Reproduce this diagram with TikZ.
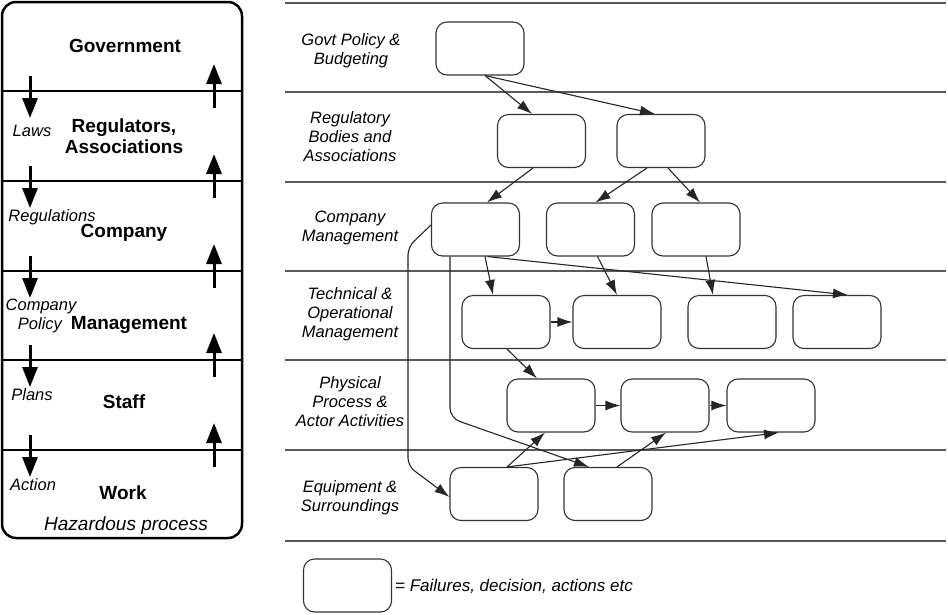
\documentclass[tikz,border=0pt]{standalone}
\usepackage{fontspec}
\setmainfont{Liberation Sans}
\usetikzlibrary{arrows.meta}
\begin{document}
\begin{tikzpicture}[x=1pt,y=-1pt,
  box/.style={draw=black!80, line width=1.1pt, rounded corners=11pt, minimum width=88pt, minimum height=53pt, inner sep=0pt},
  conn/.style={draw=black!85, line width=1.1pt, -{Latex[length=15pt,width=10pt]}},
  bigarrow/.style={line width=3pt, -{Triangle[length=20pt,width=15pt]}},
  lane/.style={draw=black!65, line width=1.4pt},
  sepline/.style={line width=2.5pt},
  head/.style={font=\fontsize{19}{21}\selectfont\bfseries, align=center, inner sep=0pt},
  lab/.style={font=\fontsize{16.5}{19}\selectfont\itshape, align=center, inner sep=0pt}]
\useasboundingbox (0,0) rectangle (948,614);

% ---------- left panel ----------
\draw[line width=2.5pt, rounded corners=14pt] (2,2) rectangle (242,538);
\foreach \yy in {91,181,271,360,450}{
  \draw[sepline] (2,\yy) -- (242,\yy);
  \draw[bigarrow] (30,\yy-15) -- (30,\yy+27);
  \draw[bigarrow] (214,\yy+17) -- (214,\yy-27);
}
\node[head] (gov) at (125,46) {Government};
\node[head] (reg) at (124,136) {Regulators,\\Associations};
\node[head] (comp) at (124,233) {Company};
\node[head] (mgmt) at (129,325) {Management};
\node[head] (staff) at (124,402) {Staff};
\node[head] (work) at (123,493) {Work};
\node[lab] (laws) at (32,131) {Laws};
\node[lab] (regs) at (52,217) {Regulations};
\node[lab] (cpol1) at (41,306) {Company};
\node[lab] (cpol2) at (40,325) {Policy};
\node[lab] (plans) at (32,395) {Plans};
\node[lab] (action) at (33,485) {Action};
\node[font=\fontsize{19}{21}\selectfont\itshape, inner sep=0pt] (haz) at (126,526) {Hazardous process};

% ---------- right panel lanes ----------
\foreach \yy in {3,92,182,271,360,450,541}{
  \draw[lane] (285,\yy) -- (946,\yy);
}
\node[lab] (r1) at (351,51) {Govt Policy \&\\Budgeting};
\node[lab] (r2) at (350,137) {Regulatory\\Bodies and\\Associations};
\node[lab] (r3) at (350,227.5) {Company\\Management};
\node[lab] (r4) at (350,314) {Technical \&\\Operational\\Management};
\node[lab] (r5) at (350,401.5) {Physical\\Process \&\\Actor Activities};
\node[lab] (r6) at (350,498) {Equipment \&\\Surroundings};

% ---------- boxes ----------
\node[box] (a1) at (480,48.5) {};
\node[box] (b1) at (541.5,141) {};
\node[box] (b2) at (661,141) {};
\node[box] (c1) at (475.5,229.5) {};
\node[box] (c2) at (590.5,229.5) {};
\node[box] (c3) at (696,229.5) {};
\node[box] (d1) at (506,322) {};
\node[box] (d2) at (617,322) {};
\node[box] (d3) at (732,322) {};
\node[box] (d4) at (837,322) {};
\node[box] (e1) at (551,405.5) {};
\node[box] (e2) at (665,405.5) {};
\node[box] (e3) at (771,405.5) {};
\node[box] (f1) at (494,494) {};
\node[box] (f2) at (608,494) {};

% ---------- connectors ----------
\draw[conn] ([xshift=5pt]a1.south) -- ([xshift=-9.5pt]b1.north);
\draw[conn] ([xshift=5pt]a1.south) -- ([xshift=-6pt]b2.north);
\draw[conn] ([xshift=-8.5pt]b1.south) -- ([xshift=11.5pt]c1.north);
\draw[conn] ([xshift=-14pt]b2.south) -- ([xshift=5pt]c2.north);
\draw[conn] ([xshift=7pt]b2.south) -- ([xshift=4pt]c3.north);
\draw[conn, rounded corners=8pt] ([yshift=4.5pt]c1.west) -- (408,247) -- (408,466) -- ([yshift=-3pt]f1.west);
\draw[conn, rounded corners=10pt] ([xshift=-25.5pt]c1.south) -- (450,418) -- ([xshift=-19pt]f2.north);
\draw[conn] ([xshift=9.5pt]c1.south) -- ([xshift=-13pt]d1.north);
\draw[conn] ([xshift=12pt]c1.south) -- ([xshift=11pt]d4.north);
\draw[conn] ([xshift=7pt]c2.south) -- (d2.north);
\draw[conn] ([xshift=10pt]c3.south) -- ([xshift=-19pt]d3.north);
\draw[conn] (d1.east) -- (d2.west);
\draw[conn] ([xshift=1pt]d1.south) -- ([xshift=-14pt]e1.north);
\draw[conn] (e1.east) -- (e2.west);
\draw[conn] (e2.east) -- (e3.west);
\draw[conn] ([xshift=13pt]f1.north) -- ([xshift=-6pt]e1.south);
\draw[conn] ([xshift=13pt]f1.north) -- ([xshift=8pt]e3.south);
\draw[conn] ([xshift=9pt]f2.north) -- ([xshift=1pt]e2.south);

% ---------- legend ----------
\node[box] (leg) at (347.5,585.5) {};
\node[lab, font=\fontsize{17}{19}\selectfont\itshape, anchor=west] (legt) at (395,586) {= Failures, decision, actions etc};
\end{tikzpicture}
\end{document}
